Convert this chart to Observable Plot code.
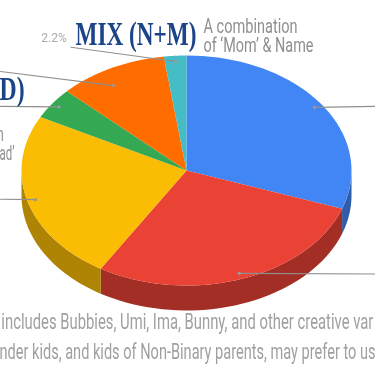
<!DOCTYPE html>
<html><head><meta charset="utf-8">
<style>html,body{margin:0;padding:0;background:#fff;overflow:hidden}svg{display:block;filter:blur(.35px)}</style>
<script src="https://cdn.jsdelivr.net/npm/d3@7"></script>
<script src="https://cdn.jsdelivr.net/npm/@observablehq/plot@0.6"></script>
</head><body><div id="chart"></div>
<script>
// Pie shares (%), clockwise from 12 o'clock
const sliceNames = ["Blue","Red","Yellow","Green","Orange","Teal"];
const shares = [30.4,28.3,24.0,4.4,10.7,2.2];
const topColors = ["#4285f4","#ea4335","#fbbc04","#34a853","#ff6d01","#46bdc6"];
const sideColors = ["#2e5daa","#a32e25","#af8303","#24753a","#b24c01","#318489"];
const anchorRadius = [0.95,0.95,0.95,0.95,0.86,0.95];
const anchorAngleShift = [0,0,0,0,-3.7,0];
// leader outer ends, in pie units
const leaderEndX = [1.144,1.144,-1.127,-1.127,-1.127,-0.70];
const leaderEndY = [-0.557,0.90,0.25,-0.557,-0.861,-1.072];
const depth = 0.217;

// Texts
const headline = [{t:"MIX (N+M)",x:-0.673,y:-1.087,len:121},{t:"D)",x:-1.133,y:-0.609,len:25}];
const noteLines = [
  {t:"A combination",x:0.103,y:-1.20,len:94},
  {t:"of ‘Mom’ & Name",x:0.103,y:-1.03,len:110},
  {t:"n",x:-1.15,y:-0.26,len:7},
  {t:"ad’",x:-1.133,y:-0.087,len:15}];
const captionLines = [
  {t:"includes Bubbies, Umi, Ima, Bunny, and other creative var",x:-1.122,y:1.38,len:372},
  {t:"nder kids, and kids of Non-Binary parents, may prefer to us",x:-1.133,y:1.635,len:376}];
const pctLabel = [{t:"2.2%",x:-0.88,y:-1.115}];

const TAU = Math.PI*2;
let cum = 0;
const slices = shares.map((s,i)=>{const a0=cum/100*360; cum+=s; return {name:sliceNames[i],a0,a1:cum/100*360,i};});
const ux = a=>Math.sin(a*TAU/360), uy = a=>-Math.cos(a*TAU/360);
const arc = (a0,a1)=>d3.range(0,41).map(k=>a0+(a1-a0)*k/40);

const topPts=[], sidePts=[];
for(const s of slices){
  topPts.push({k:s.name,x:0,y:0});
  for(const a of arc(s.a0,s.a1)) topPts.push({k:s.name,x:ux(a),y:uy(a)});
  const lo=Math.max(s.a0,90), hi=Math.min(s.a1,270);
  if(hi>lo){
    const as=arc(lo,hi);
    for(const a of as) sidePts.push({k:s.name,x:ux(a),y:uy(a)});
    for(const a of as.slice().reverse()) sidePts.push({k:s.name,x:ux(a),y:uy(a)+depth});
  }
}
const leaders=slices.flatMap(s=>{
  const m=(s.a0+s.a1)/2+anchorAngleShift[s.i], r=anchorRadius[s.i];
  return [{k:s.name,x:ux(m)*r,y:uy(m)*r},{k:s.name,x:leaderEndX[s.i],y:leaderEndY[s.i]}];
});
const dots=leaders.filter((d,i)=>i%2===0);

const colorOf=(arr)=>d=>arr[sliceNames.indexOf(d.k)];
const chart=Plot.plot({
  width:375,height:366,margin:0,
  x:{domain:[-186/165,189/165],range:[0,375],axis:null},
  y:{domain:[-170/115,196/115],range:[0,366],axis:null},
  marks:[
    Plot.line(sidePts,{x:"x",y:"y",z:"k",fill:colorOf(sideColors),stroke:null,curve:"linear"}),
    Plot.line(topPts,{x:"x",y:"y",z:"k",fill:colorOf(topColors),stroke:null,curve:"linear"}),
    Plot.line(leaders,{x:"x",y:"y",z:"k",stroke:"#8f8f8f",strokeWidth:1.2}),
    Plot.dot(dots,{x:"x",y:"y",r:1.6,fill:"#9a9a9a"}),
    Plot.text(headline,{x:"x",y:"y",text:"t",textAnchor:"start",lineAnchor:"bottom",fontFamily:"Liberation Serif",fontWeight:700,fontSize:33,fill:"#1c4587",className:"fit"}),
    Plot.text(noteLines,{x:"x",y:"y",text:"t",textAnchor:"start",lineAnchor:"bottom",fontFamily:"Roboto",fontSize:20,fill:"#8f8f8f",className:"fit"}),
    Plot.text(captionLines,{x:"x",y:"y",text:"t",textAnchor:"start",lineAnchor:"bottom",fontFamily:"Roboto",fontSize:21.5,fill:"#a0a0a0",className:"fit"}),
    Plot.text(pctLabel,{x:"x",y:"y",text:"t",textAnchor:"start",lineAnchor:"bottom",fontFamily:"Roboto",fontSize:12,fill:"#aaaaaa"})
  ]
});
const lenByText=new Map([...headline,...noteLines,...captionLines].map(d=>[d.t,d.len]));
d3.select(chart).selectAll(".fit text").each(function(){
  const len=lenByText.get(this.textContent);
  if(len){this.setAttribute("textLength",len);this.setAttribute("lengthAdjust","spacingAndGlyphs");}
});
document.getElementById("chart").append(chart);
</script></body></html>
